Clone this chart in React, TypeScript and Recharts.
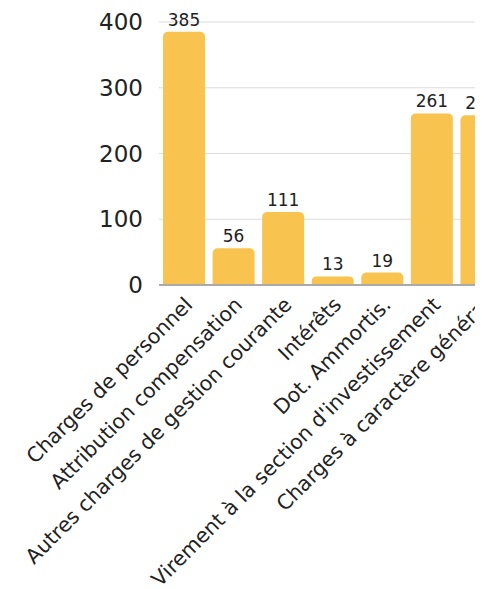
import { BarChart, Bar, XAxis, YAxis, CartesianGrid, LabelList } from "recharts";

const categories = [
  "Charges de personnel",
  "Attribution compensation",
  "Autres charges de gestion courante",
  "Intérêts",
  "Dot. Ammortis.",
  "Virement à la section d'investissement",
  "Charges à caractère général",
];
const values = [385, 56, 111, 13, 19, 261, 258];
const yTicks = [0, 100, 200, 300, 400];

const data = categories.map((name, i) => ({ name, value: values[i] }));

const FONT = "'DejaVu Sans', sans-serif";

function SlantTick(props: any) {
  const { x, y, payload } = props;
  return (
    <g transform={`translate(${x + 10},${y + 13})`}>
      <text
        transform="rotate(-45)"
        textAnchor="end"
        fill="#222"
        fontSize={20.5}
        fontFamily={FONT}
      >
        {payload.value}
      </text>
    </g>
  );
}

export default function App() {
  return (
    <div style={{ width: 508, height: 581 }}>
      <BarChart
        width={508}
        height={581}
        data={data}
        margin={{ top: 14, right: 10, bottom: 0, left: 0 }}
        barCategoryGap={4}
      >
        <CartesianGrid vertical={false} stroke="#dcdcdc" />
        <XAxis
          dataKey="name"
          interval={0}
          height={304}
          stroke="#aaa"
          strokeWidth={2}
          tickLine={false}
          tick={<SlantTick />}
        />
        <YAxis
          width={151}
          domain={[0, 400]}
          ticks={yTicks}
          axisLine={false}
          tickLine={false}
          tickSize={0}
          tickMargin={16}
          tick={{ fill: "#222", fontSize: 23, fontFamily: FONT }}
        />
        <Bar dataKey="value" fill="#f8c44f" radius={[5, 5, 0, 0]} isAnimationActive={false}>
          <LabelList
            dataKey="value"
            position="top"
            offset={6}
            fill="#222"
            fontSize={17}
            fontFamily={FONT}
          />
        </Bar>
      </BarChart>
    </div>
  );
}
